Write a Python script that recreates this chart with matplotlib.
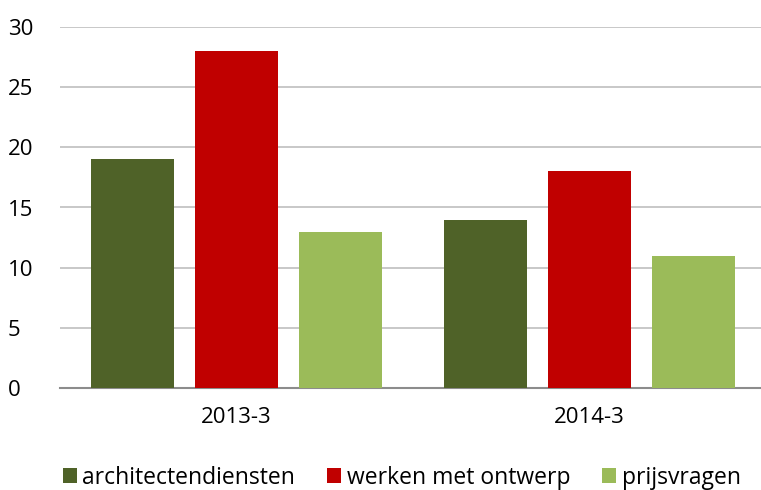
import matplotlib
matplotlib.use("Agg")
import matplotlib.pyplot as plt
import numpy as np

categories = ["2013-3", "2014-3"]
series = ["architectendiensten", "werken met ontwerp", "prijsvragen"]
architectendiensten = [19, 14]
werken_met_ontwerp = [28, 18]
prijsvragen = [13, 11]
colors = ["#4F6228", "#C00000", "#9BBB59"]

plt.rcParams['font.family'] = ['Open Sans', 'DejaVu Sans']

fig = plt.figure(figsize=(7.61, 4.90), dpi=100)
ax = fig.add_axes([60/761, (490-388)/490, 706/761, (388-27)/490])

x = np.arange(len(categories))
width = 0.235
offsets = [-0.294, 0, 0.294]
values = [architectendiensten, werken_met_ontwerp, prijsvragen]
for vals, off, col, name in zip(values, offsets, colors, series):
    ax.bar(x + off, vals, width, color=col, label=name, zorder=3)

ax.set_xlim(-0.5, 1.5)
ax.set_ylim(0, 30)
ax.set_yticks(range(0, 31, 5))
ax.set_xticks(x)
ax.set_xticklabels(categories)
ax.yaxis.grid(True, color="#BFBFBF", linewidth=1.2, zorder=0)
for s in ["top", "right", "left"]:
    ax.spines[s].set_visible(False)
ax.spines["bottom"].set_color("#8C8C8C")
ax.spines["bottom"].set_linewidth(1.5)
ax.tick_params(axis="both", length=0, labelsize=16, colors="#000000")
ax.tick_params(axis="y", pad=37.5)
ax.tick_params(axis="x", pad=14)
for lbl in ax.get_yticklabels():
    lbl.set_horizontalalignment("left")

fig.legend(loc="center", bbox_to_anchor=(0.528, 0.025), ncol=3, frameon=False,
           fontsize=16.5, handlelength=0.6, handleheight=0.6, handletextpad=0.25,
           columnspacing=1.4, borderpad=0)

fig.savefig("out.png", dpi=100)
